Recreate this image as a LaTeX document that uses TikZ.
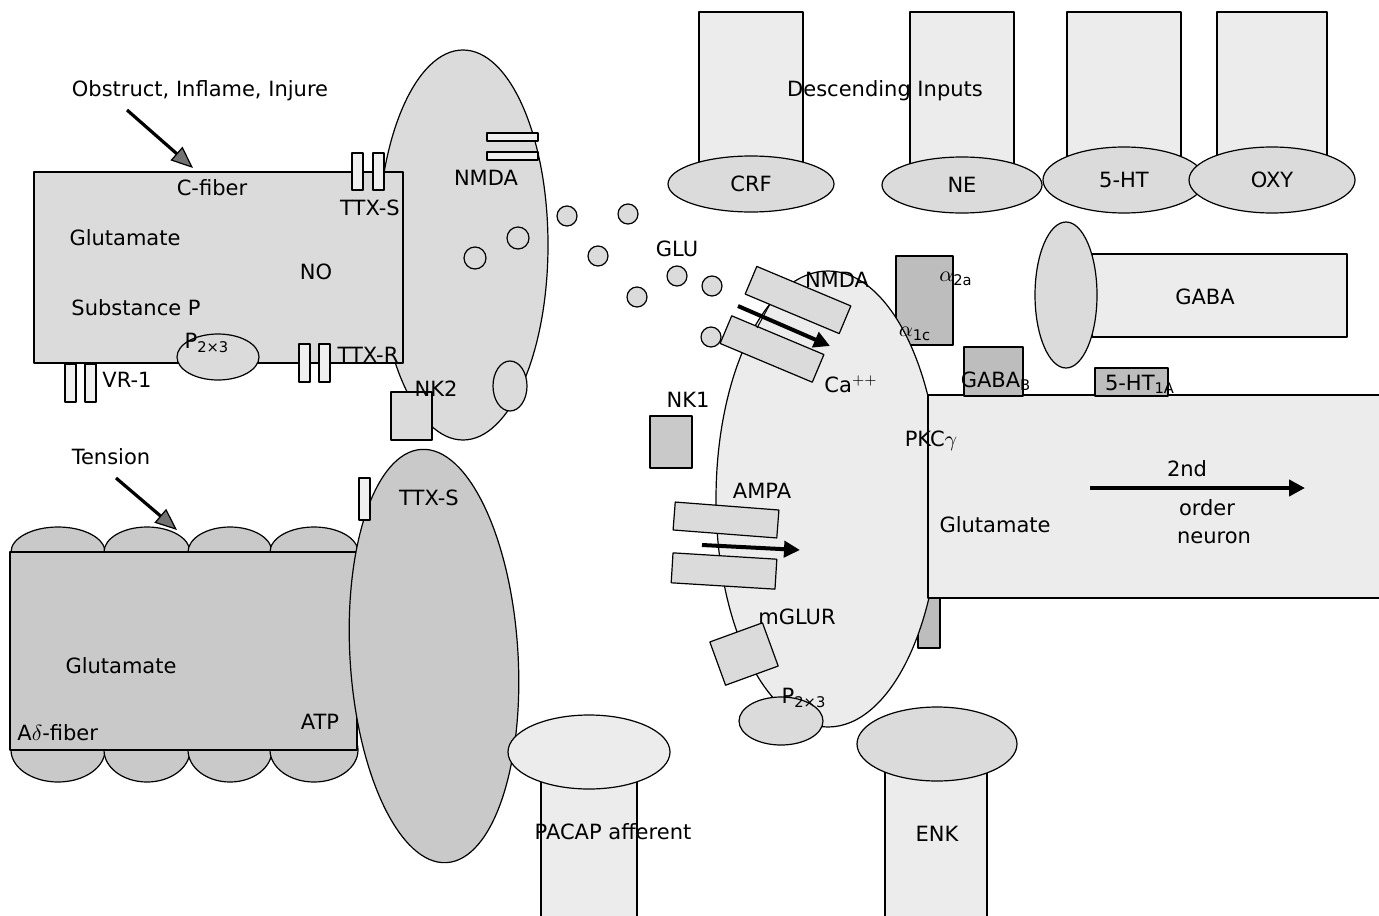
\documentclass[tikz,border=0pt]{standalone}
\usepackage{fontspec}
\setmainfont{DejaVu Sans}
\usetikzlibrary{arrows.meta}
\colorlet{tipgray}{black!55}

\begin{document}
\begin{tikzpicture}[x=0.5pt, y=-0.5pt, line join=round,
    every node/.style={font=\fontsize{10.5}{12}\selectfont, inner sep=1pt},
    pale/.style={draw=black, line width=0.6pt, fill=gray!15},
    cell/.style={draw=black, line width=0.6pt, fill=gray!28},
    dense/.style={draw=black, line width=0.6pt, fill=gray!42},
    dark/.style={draw=black, line width=0.6pt, fill=gray!52},
    chan/.style={draw=black, line width=0.6pt, fill=gray!12},
    cause/.style={line width=1.6pt, -{Triangle[length=11pt, width=9pt, line width=0.6pt, fill=tipgray]}},
    flow/.style={line width=2pt, -{Triangle[length=8pt, width=8pt]}}]
  \path[use as bounding box] (0,0) rectangle (1379,915);

  % descending inputs
  \foreach \cx/\hw/\cy/\rx/\ry/\lab/\nm in {751/52/184/83/28/CRF/crf, 962/52/185/80/28/NE/ne,
      1124/57/180/81/33/5-HT/ht, 1272/55/180/83/33/OXY/oxy} {
    \draw[pale] (\cx-\hw,12) rectangle (\cx+\hw,\cy);
    \draw[cell] (\cx,\cy) ellipse [x radius=\rx, y radius=\ry];
    \node (\nm) at (\cx,\cy) {\lab};
  }
  \node (desc) at (885,91) {Descending Inputs};

  % C-fiber and its terminal
  \draw[cell] (463,245) ellipse [x radius=85, y radius=195];
  \foreach \y in {137,156} \draw[chan] (487,\y-4) rectangle (538,\y+4);
  \foreach \cx/\cy in {518/238, 475/258} \draw[cell] (\cx,\cy) circle [radius=11];
  \draw[cell] (510,386) ellipse [x radius=17, y radius=25];
  \draw[cell] (391,392) rectangle (432,440);
  \draw[cell] (34,172) rectangle (403,363);
  \foreach \x in {352,373} \draw[chan] (\x,153) rectangle (\x+11,190);
  \foreach \x in {299,319} \draw[chan] (\x,344) rectangle (\x+11,382);
  \foreach \x in {65,85} \draw[chan] (\x,364) rectangle (\x+11,402);
  \draw[cell] (218,357) ellipse [x radius=41, y radius=23];
  \node (cfib) at (212,188) {C-fiber};
  \node (cglu) at (125,238) {Glutamate};
  \node (no) at (316,272) {NO};
  \node (subp) at (136,308) {Substance P};
  \node (ttxs) at (370,208) {TTX-S};
  \node (ttxr) at (368,355) {TTX-R};
  \node (vr) at (127,380) {VR-1};
  \node (cp2x3) at (207,343) {P\textsubscript{2×3}};
  \node (nmda1) at (486,178) {NMDA};
  \node (nk2) at (436,389) {NK2};
  \node (obs) at (200,91) {Obstruct, Inflame, Injure};
  \coordinate (obs tail) at (127,110);
  \coordinate (obs tip) at (193,168);
  \draw[cause] (obs tail) -- (obs tip);

  % A-delta fiber
  \foreach \bx/\brx in {58/47, 147/43, 230/42, 314/44} {
    \draw[dense] (\bx,552) ellipse [x radius=\brx, y radius=25];
    \draw[dense] (\bx,750) ellipse [x radius=\brx, y radius=32];
  }
  \draw[dense] (10,552) rectangle (357,750);
  \draw[dense, rotate around={3.5:(434,656)}] (434,656) ellipse [x radius=84, y radius=207];
  \draw[chan] (359,478) rectangle (370,520);
  \node (tens) at (111,457) {Tension};
  \node (ttxs2) at (429,498) {TTX-S};
  \node (aglu) at (121,666) {Glutamate};
  \node[anchor=west] (adfib) at (15,733) {A$\delta$-fiber};
  \node (atp) at (320,722) {ATP};
  \coordinate (tens tail) at (116,478);
  \coordinate (tens tip) at (177,530);
  \draw[cause] (tens tail) -- (tens tip);

  % glutamate release
  \foreach \gx/\gy in {567/216, 628/214, 598/256, 677/276, 712/286, 637/297}
    \draw[cell] (\gx,\gy) circle [radius=10];
  \node (glu) at (677,249) {GLU};

  % dorsal horn neuron
  \draw[dark] (896,256) rectangle (953,345);
  \draw[dark] (918,588) rectangle (940,648);
  \draw[pale] (828,499) ellipse [x radius=112, y radius=228];
  \draw[cell, rotate around={-22.8:(798,300)}] (798-51,300-15) rectangle (798+51,300+15);
  \draw[cell, rotate around={-22.8:(772,349)}] (772-50,349-15) rectangle (772+50,349+15);
  \draw[line width=0.5pt] (770,304) -- (757,328);
  \draw[cell] (711,337) circle [radius=10];
  \coordinate (ca tail) at (738,306);
  \coordinate (ca tip) at (830,346);
  \draw[flow] (ca tail) -- (ca tip);
  \draw[cell, rotate around={-4.4:(726,520)}] (726-52,520-14) rectangle (726+52,520+14);
  \draw[cell, rotate around={-3.5:(724,571)}] (724-52,571-15) rectangle (724+52,571+15);
  \coordinate (na tail) at (702,545);
  \coordinate (na tip) at (800,550);
  \draw[flow] (na tail) -- (na tip);
  \draw[cell, rotate around={20:(744,654)}] (744-28,654-23) rectangle (744+28,654+23);
  \draw[cell] (781,721) ellipse [x radius=42, y radius=24];
  \draw[dense] (650,416) rectangle (692,468);
  \node (nmda2) at (837,280) {NMDA};
  \node (ca) at (851,384) {Ca$^{++}$};
  \node (a2a) at (956,279) {$\alpha_{\mathrm{2a}}$};
  \node (a1c) at (915,334) {$\alpha_{\mathrm{1c}}$};
  \node (nk1) at (688,400) {NK1};
  \node (ampa) at (762,491) {AMPA};
  \node (mglur) at (797,617) {mGLUR};
  \node (pp2x3) at (804,698) {P\textsubscript{2×3}};

  % second order neuron
  \draw[pale] (928,395) rectangle (1383,598);
  \draw[dark] (964,347) rectangle (1023,396);
  \draw[dark] (1095,368) rectangle (1168,396);
  \node (pkc) at (931,441) {PKC$\gamma$};
  \node (gabab) at (996,381) {GABA\textsubscript{B}};
  \node (ht1a) at (1140,384) {5-HT\textsubscript{1A}};
  \node (sglu) at (995,525) {Glutamate};
  \node (nd) at (1187,469) {2nd};
  \node (ord) at (1207,508) {order};
  \node (neu) at (1214,538) {neuron};
  \coordinate (out tail) at (1090,488);
  \coordinate (out tip) at (1305,488);
  \draw[flow] (out tail) -- (out tip);

  % GABA interneuron
  \draw[pale] (1092,254) rectangle (1347,337);
  \draw[cell] (1066,295) ellipse [x radius=31, y radius=73];
  \node (gaba) at (1205,297) {GABA};

  % PACAP and ENK
  \draw[pale] (541,760) rectangle (637,920);
  \draw[pale] (589,752) ellipse [x radius=81, y radius=37];
  \node (pacap) at (613,832) {PACAP afferent};
  \draw[pale] (885,760) rectangle (987,920);
  \draw[cell] (937,744) ellipse [x radius=80, y radius=37];
  \node (enk) at (937,834) {ENK};
\end{tikzpicture}
\end{document}
